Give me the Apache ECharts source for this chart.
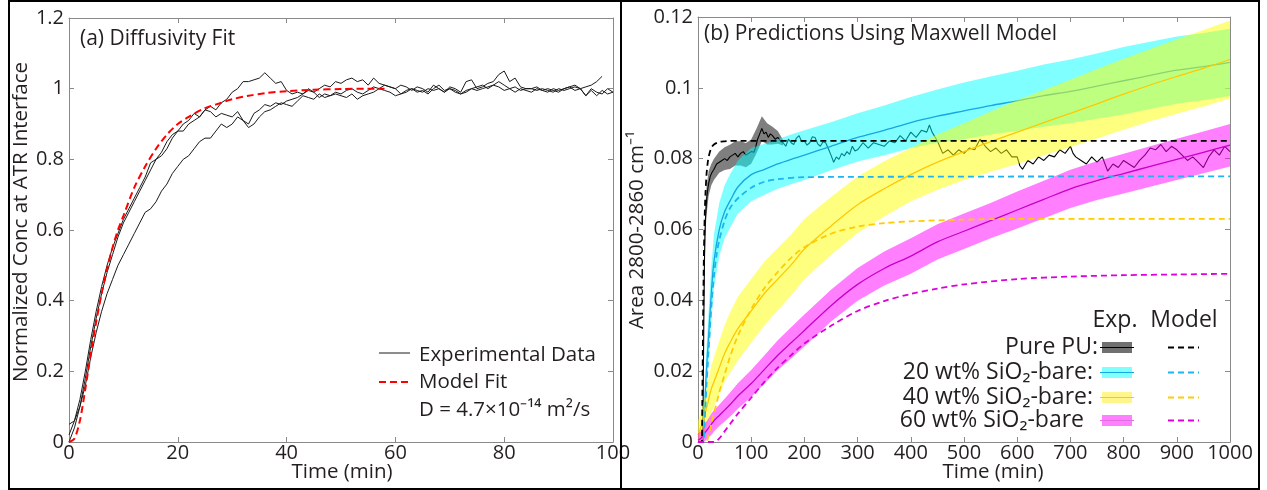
<!DOCTYPE html>
<html><head><meta charset="utf-8">
<script src="https://cdn.jsdelivr.net/npm/echarts@6/dist/echarts.min.js"></script>
<style>html,body{margin:0;padding:0;background:#fff}#c{width:1267px;height:490px}</style>
</head><body><div id="c"></div><script>
// ---------- Panel (a) data ----------
const tExpA = [0,1,2,3,4,5,6,7,8,9,10,11,12,13,14,15,16,17,18,19,20,21,22,23,24,25,26,27,28,29,30,31,32,33,34,35,36,37,38,39,40,41,42,43,44,45,46,47,48,49,50,51,52,53,54,55,56,57,58,59,60,61,62,63,64,65,66,67,68,69,70,71,72,73,74,75,76,77,78,79,80,81,82,83,84,85,86,87,88,89,90,91,92,93,94,95,96,97,98,99,100];
const expRun1 = [0.02,0.06,0.12,0.2,0.29,0.37,0.44,0.5,0.55,0.59,0.63,0.66,0.69,0.72,0.75,0.79,0.80,0.81,0.83,0.86,0.88,0.88,0.9,0.91,0.92,0.94,0.95,0.94,0.96,0.97,0.99,1.0,1.02,1.02,1.025,1.03,1.045,1.03,1.015,1.02,0.995,0.985,0.99,0.985,0.995,0.99,1.0,1.01,1.005,1.02,1.015,1.025,1.03,1.02,1.025,1.01,1.03,1.015,1.01,1.005,1.0,0.985,0.995,1.0,0.99,0.995,0.985,1.0,1.01,0.995,1.0,0.99,0.985,0.995,1.0,1.005,1.01,1.0,1.01,1.02,1.01,1.0,1.005,0.995,1.0,1.0,0.995,1.0,0.995,0.99,1.0,0.995,1.0,1.005,1.0,0.98,1.0,0.99,0.985,1.0,0.99];
const expRun2 = [0.0,0.04,0.1,0.18,0.27,0.35,0.42,0.48,0.53,0.58,0.62,0.65,0.68,0.71,0.74,0.77,0.8,0.82,0.85,0.87,0.88,0.9,0.91,0.93,0.92,0.94,0.935,0.92,0.93,0.925,0.92,0.935,0.91,0.89,0.9,0.92,0.935,0.94,0.95,0.96,0.955,0.95,0.965,0.98,0.975,0.97,0.985,0.975,0.98,0.99,0.985,0.995,1.0,0.99,0.985,0.995,1.005,1.0,1.01,1.005,1.0,1.01,1.005,0.995,1.005,1.0,0.99,1.01,1.0,0.99,1.005,1.0,0.99,1.02,1.025,1.0,1.005,1.015,1.02,1.04,1.05,1.02,1.03,1.005,1.0,1.0,1.005,0.995,1.0,0.995,0.99,1.0,1.005,1.01,1.0,1.005,1.01,1.02,1.035];
const expRun3 = [0.05,0.06,0.1,0.16,0.24,0.31,0.37,0.42,0.46,0.5,0.53,0.56,0.59,0.62,0.65,0.66,0.68,0.71,0.73,0.76,0.78,0.8,0.81,0.83,0.85,0.86,0.86,0.88,0.9,0.89,0.9,0.92,0.91,0.9,0.93,0.94,0.955,0.95,0.96,0.955,0.965,0.97,0.975,0.985,1.0,0.99,0.975,0.985,0.98,0.985,0.98,0.975,0.985,0.97,0.98,0.985,0.99,1.0,0.995,0.99,0.98,0.985,0.99,1.0,0.995,0.99,1.0,0.995,1.0,0.99,1.0,0.995,0.985,0.99,1.0,0.995,1.0,1.005,1.01,1.005,0.995,1.0,0.99,1.0,0.995,0.99,1.0,0.995,0.99,1.0,0.995,1.0,1.005,0.995,1.0,0.98,0.995,0.98,0.995,0.985,0.99];
const tFit = [0,1,2,3,4,5,6,7,8,9,10,12,14,16,18,20,22,25,28,30,33,36,40,45,50,55,58];
const fitVals = [0,0.01,0.06,0.15,0.25,0.34,0.42,0.49,0.55,0.6,0.64,0.72,0.78,0.83,0.87,0.9,0.92,0.945,0.96,0.97,0.98,0.987,0.993,0.997,0.999,1.0,1.0];

// ---------- Panel (b) data ----------
const tBand = [0,5,10,15,20,25,30,40,50,60,75,100,125,150,175,200,250,300,350,400,450,500,550,600,650,700,750,800,850,900,950,1000];
const c20 = [0,0,0.002,0.018,0.03,0.042,0.051,0.06,0.065,0.068,0.072,0.0755,0.077,0.0785,0.0798,0.081,0.0835,0.086,0.088,0.0902,0.092,0.0935,0.095,0.0963,0.0978,0.099,0.1005,0.102,0.1035,0.105,0.106,0.1072];
const h20 = [0,0,0.002,0.006,0.007,0.0075,0.0075,0.0075,0.0075,0.0075,0.0075,0.0075,0.0072,0.007,0.007,0.007,0.0068,0.0068,0.007,0.0072,0.0075,0.008,0.0082,0.0085,0.0088,0.009,0.0092,0.0095,0.0095,0.0095,0.0095,0.0095];
const c40 = [0.002,0.004,0.006,0.009,0.012,0.015,0.017,0.021,0.025,0.028,0.032,0.037,0.042,0.046,0.050,0.0545,0.061,0.067,0.0715,0.0755,0.079,0.082,0.0848,0.0875,0.0902,0.0928,0.0955,0.0982,0.1008,0.1032,0.1055,0.108];
const h40 = [0.004,0.004,0.005,0.005,0.006,0.0065,0.007,0.0075,0.008,0.0085,0.009,0.009,0.009,0.0088,0.0086,0.0085,0.0082,0.008,0.0078,0.0075,0.0078,0.008,0.0085,0.009,0.0092,0.0095,0.0098,0.01,0.0102,0.0105,0.0108,0.011];
const c60 = [0.0005,0.001,0.002,0.003,0.004,0.005,0.006,0.0075,0.009,0.0105,0.013,0.0165,0.0205,0.0245,0.028,0.0315,0.0385,0.0445,0.049,0.0525,0.0565,0.0595,0.0625,0.0655,0.0685,0.0715,0.0738,0.0758,0.0778,0.0798,0.0818,0.0838];
const h60 = [0.002,0.002,0.0022,0.0025,0.0027,0.003,0.003,0.003,0.0032,0.0034,0.0036,0.0038,0.004,0.0042,0.0044,0.0045,0.0045,0.0046,0.0048,0.005,0.005,0.005,0.005,0.0052,0.0053,0.0054,0.0055,0.0056,0.0057,0.0058,0.0059,0.006];
const tPUband = [10,11,12,14,16,20,25,30,40,50,60,70,80,90,100,110,120,130,140,150,160];
const cPU = [0.0,0.035,0.05,0.063,0.068,0.073,0.0755,0.077,0.079,0.08,0.0805,0.0815,0.0815,0.081,0.082,0.085,0.0885,0.087,0.0865,0.086,0.0845];
const hPU = [0.002,0.004,0.005,0.004,0.004,0.0035,0.003,0.003,0.003,0.0032,0.0034,0.0034,0.0034,0.0034,0.0034,0.0035,0.0035,0.003,0.0025,0.0018,0.0008];
const tPU = [0,9,10,11,12,13,14,16,18,20,23,26,30,35,40,45,50,55,60,65,70,75,80,85,90,95,100,105,108,112,116,120,124,128,132,136,140,145,150,155,160,165,170,175,180,185,190,195,200,205,210,215,220,225,230,235,240,245,250,255,260,265,270,275,280,285,290,295,300,310,320,330,340,350,360,370,380,390,400,410,420,430,435,440,450,460,470,480,490,500,510,520,530,540,550,560,570,580,590,600,605,610,620,630,640,650,660,670,680,690,700,705,710,720,730,740,750,760,770,780,790,800,810,820,830,840,850,860,870,880,890,900,910,920,930,940,950,960,970,980,990,1000];
const vPU = [0,0,0,0.035,0.05,0.058,0.063,0.068,0.071,0.073,0.075,0.076,0.077,0.0785,0.079,0.0795,0.08,0.0795,0.0805,0.081,0.0815,0.0805,0.0815,0.082,0.081,0.0815,0.082,0.0818,0.083,0.0855,0.087,0.0885,0.087,0.0875,0.086,0.087,0.0865,0.0855,0.086,0.085,0.0845,0.0835,0.0855,0.0845,0.084,0.0858,0.0865,0.0848,0.085,0.0838,0.0845,0.0862,0.086,0.0842,0.0835,0.0848,0.0845,0.0828,0.081,0.079,0.0805,0.0798,0.0815,0.0808,0.082,0.0812,0.0835,0.0822,0.0825,0.0845,0.083,0.0845,0.084,0.0835,0.085,0.0845,0.0865,0.085,0.0875,0.086,0.088,0.0875,0.0895,0.0875,0.085,0.0815,0.0825,0.081,0.0825,0.0815,0.083,0.0825,0.0855,0.0835,0.082,0.083,0.0815,0.0825,0.0805,0.0805,0.078,0.077,0.0795,0.0785,0.0805,0.0795,0.081,0.0805,0.0825,0.0815,0.0835,0.0815,0.0805,0.0795,0.0785,0.0805,0.079,0.0805,0.0765,0.0785,0.0775,0.0795,0.0785,0.0775,0.0795,0.081,0.083,0.0825,0.084,0.082,0.0835,0.0825,0.081,0.0795,0.0805,0.079,0.0775,0.0805,0.0825,0.081,0.0835,0.082];
const tM0 = [0,7,8,9,10,11,12,13,14,16,18,20,25,30,40,50,60,80,1000];
const vM0 = [0,0,0.01,0.025,0.04,0.052,0.06,0.066,0.07,0.0755,0.0785,0.0805,0.083,0.084,0.0847,0.0849,0.085,0.085,0.085];
const tM20 = [0,10,12,14,16,18,20,25,30,35,40,50,60,70,80,100,125,150,200,1000];
const vM20 = [0,0,0.004,0.01,0.016,0.021,0.026,0.038,0.047,0.053,0.057,0.0625,0.066,0.068,0.0695,0.0718,0.0735,0.0742,0.0748,0.075];
const tM40 = [0,15,20,25,30,40,50,60,75,100,125,150,175,200,250,300,350,400,500,600,1000];
const vM40 = [0,0,0.002,0.005,0.008,0.014,0.019,0.024,0.030,0.0375,0.0435,0.048,0.052,0.055,0.0588,0.0608,0.0618,0.0623,0.0628,0.063,0.063];
const tM60 = [0,30,40,50,60,75,100,125,150,175,200,250,300,350,400,450,500,600,700,800,900,1000];
const vM60 = [0,0,0.001,0.003,0.005,0.008,0.0125,0.017,0.021,0.0245,0.0278,0.0328,0.037,0.0398,0.0418,0.0433,0.0445,0.046,0.0467,0.0471,0.0473,0.0475];

const pairs = (t, v) => t.map((x, i) => [x, v[i]]);

const FONT = '"Open Sans", sans-serif';
const TXT = '#231f20';
const AX = '#8a8a8a';
const fmtNum = v => String(Number(v.toFixed(3)));

function xAx(grid, max, interval, pos, labels) {
  return { gridIndex: grid, type: 'value', min: 0, max: max, interval: interval, position: pos,
    axisLine: { onZero: false, lineStyle: { color: AX, width: 1 } },
    axisTick: { inside: true, length: 5, lineStyle: { color: AX } },
    axisLabel: { show: labels, color: TXT, fontSize: 20, fontFamily: FONT, margin: 1, formatter: fmtNum },
    splitLine: { show: false } };
}
function yAx(grid, max, interval, pos, labels) {
  return { gridIndex: grid, type: 'value', min: 0, max: max, interval: interval, position: pos,
    axisLine: { onZero: false, lineStyle: { color: AX, width: 1 } },
    axisTick: { inside: true, length: 5, lineStyle: { color: AX } },
    axisLabel: { show: labels, color: TXT, fontSize: 20, fontFamily: FONT, margin: 5, formatter: fmtNum },
    splitLine: { show: false } };
}

function band(t, c, h, fill, z) {
  return { type: 'custom', xAxisIndex: 2, yAxisIndex: 2, z: z, silent: true, clip: true,
    data: [[0, 0]],
    renderItem: (params, api) => {
      const up = t.map((x, i) => api.coord([x, c[i] + h[i]]));
      const lo = t.map((x, i) => api.coord([x, Math.max(0, c[i] - h[i])])).reverse();
      return { type: 'polygon', shape: { points: up.concat(lo) }, style: { fill: fill } };
    } };
}
function line(xi, t, v, color, width, dash, z, smooth) {
  return { type: 'line', xAxisIndex: xi, yAxisIndex: xi, data: pairs(t, v), z: z, silent: true,
    symbol: 'none', showSymbol: false, smooth: smooth || false, clip: true,
    lineStyle: { color: color, width: width, type: dash || 'solid' } };
}

const textStyle = (s, size) => Object.assign({ fill: TXT, fontFamily: FONT, fontSize: size || 20 }, s);
const LG = 23;

const chart = echarts.init(document.getElementById('c'));
chart.setOption({
  animation: false,
  backgroundColor: '#fff',
  grid: [
    { left: 69, right: 654, top: 18, bottom: 48 },
    { left: 698, right: 37, top: 17, bottom: 48 }
  ],
  xAxis: [ xAx(0, 100, 20, 'bottom', true), xAx(0, 100, 20, 'top', false),
           xAx(1, 1000, 100, 'bottom', true), xAx(1, 1000, 100, 'top', false) ],
  yAxis: [ yAx(0, 1.2, 0.2, 'left', true), yAx(0, 1.2, 0.2, 'right', false),
           yAx(1, 0.12, 0.02, 'left', true), yAx(1, 0.12, 0.02, 'right', false) ],
  series: [
    line(0, tExpA, expRun1, '#1a1a1a', 1, null, 2),
    line(0, tExpA.slice(0, expRun2.length), expRun2, '#1a1a1a', 1, null, 2),
    line(0, tExpA, expRun3, '#1a1a1a', 1, null, 2),
    line(0, tFit, fitVals, '#ff0000', 2, [7, 4], 3, 0.3),

    band(tPUband, cPU, hPU, 'rgba(0,0,0,0.5)', 2),
    line(2, tPU, vPU, '#000000', 1.1, null, 3),
    band(tBand, c20, h20, 'rgba(0,255,255,0.5)', 4),
    line(2, tBand, c20, '#16a6e2', 1.3, null, 5, 0.3),
    band(tBand, c40, h40, 'rgba(255,255,0,0.5)', 6),
    line(2, tBand, c40, '#ffc800', 1.3, null, 7, 0.3),
    band(tBand, c60, h60, 'rgba(255,0,255,0.5)', 8),
    line(2, tBand, c60, '#c800c8', 1.3, null, 9, 0.3),
    line(2, tM0, vM0, '#000000', 1.8, [6, 4], 10, 0.3),
    line(2, tM20, vM20, '#1eb4f0', 1.8, [6, 4], 10, 0.3),
    line(2, tM40, vM40, '#ffcc00', 1.8, [6, 4], 10, 0.3),
    line(2, tM60, vM60, '#dd00dd', 1.8, [6, 4], 10, 0.3)
  ],
  graphic: [
    // frames
    { type: 'rect', z: 100, silent: true, shape: { x: 9, y: 1, width: 1250, height: 488 }, style: { fill: null, stroke: '#000', lineWidth: 2 } },
    { type: 'line', z: 100, silent: true, shape: { x1: 621, y1: 1, x2: 621, y2: 489 }, style: { stroke: '#000', lineWidth: 2 } },
    // titles
    { type: 'text', z: 50, left: 80, top: 29, style: textStyle({ text: '(a) Diffusivity Fit' }, 21) },
    { type: 'text', z: 50, left: 704, top: 24, style: textStyle({ text: '(b) Predictions Using Maxwell Model' }, 21) },
    // axis names
    { type: 'text', z: 50, x: 21, y: 222, rotation: Math.PI / 2, style: textStyle({ text: 'Normalized Conc at ATR Interface', align: 'center', verticalAlign: 'middle' }, 20.5) },
    { type: 'text', z: 50, x: 637, y: 230, rotation: Math.PI / 2, style: textStyle({ text: 'Area 2800-2860 cm⁻¹', align: 'center', verticalAlign: 'middle' }, 20.5) },
    { type: 'text', z: 50, x: 342, y: 472, style: textStyle({ text: 'Time (min)', align: 'center', verticalAlign: 'middle' }, 20.5) },
    { type: 'text', z: 50, x: 993, y: 472, style: textStyle({ text: 'Time (min)', align: 'center', verticalAlign: 'middle' }, 20.5) },
    // legend (a)
    { type: 'line', z: 50, shape: { x1: 379, y1: 353, x2: 410, y2: 353 }, style: { stroke: '#1a1a1a', lineWidth: 1 } },
    { type: 'line', z: 50, shape: { x1: 379, y1: 382, x2: 412, y2: 382 }, style: { stroke: '#ff0000', lineWidth: 2, lineDash: [7, 4] } },
    { type: 'text', z: 50, x: 419, y: 355, style: textStyle({ text: 'Experimental Data', verticalAlign: 'middle' }, 20.5) },
    { type: 'text', z: 50, x: 419, y: 382, style: textStyle({ text: 'Model Fit', verticalAlign: 'middle' }, 20.5) },
    { type: 'text', z: 50, x: 419, y: 410, style: textStyle({ text: 'D = 4.7×10⁻¹⁴ m²/s', verticalAlign: 'middle' }, 20.5) },
    // legend (b)
    { type: 'text', z: 50, x: 1115, y: 320, style: textStyle({ text: 'Exp.', align: 'center', verticalAlign: 'middle' }, LG) },
    { type: 'text', z: 50, x: 1184, y: 320, style: textStyle({ text: 'Model', align: 'center', verticalAlign: 'middle' }, LG) },
    { type: 'text', z: 50, x: 1098, y: 347, style: textStyle({ text: 'Pure PU:', align: 'right', verticalAlign: 'middle' }, LG) },
    { type: 'text', z: 50, x: 1093, y: 372, style: textStyle({ text: '20 wt% SiO₂-bare:', align: 'right', verticalAlign: 'middle' }, LG) },
    { type: 'text', z: 50, x: 1093, y: 397, style: textStyle({ text: '40 wt% SiO₂-bare:', align: 'right', verticalAlign: 'middle' }, LG) },
    { type: 'text', z: 50, x: 1084, y: 420, style: textStyle({ text: '60 wt% SiO₂-bare', align: 'right', verticalAlign: 'middle' }, LG) },
    { type: 'rect', z: 50, shape: { x: 1102, y: 342, width: 30, height: 11 }, style: { fill: '#707070' } },
    { type: 'line', z: 51, shape: { x1: 1100, y1: 347.5, x2: 1134, y2: 347.5 }, style: { stroke: '#000', lineWidth: 1.2 } },
    { type: 'rect', z: 50, shape: { x: 1102, y: 367, width: 30, height: 11 }, style: { fill: '#80ffff' } },
    { type: 'line', z: 51, shape: { x1: 1100, y1: 372.5, x2: 1134, y2: 372.5 }, style: { stroke: '#16a6e2', lineWidth: 1.2 } },
    { type: 'rect', z: 50, shape: { x: 1102, y: 392, width: 30, height: 11 }, style: { fill: '#fff58a' } },
    { type: 'line', z: 51, shape: { x1: 1100, y1: 397.5, x2: 1134, y2: 397.5 }, style: { stroke: '#ffc800', lineWidth: 1.2 } },
    { type: 'rect', z: 50, shape: { x: 1102, y: 415, width: 30, height: 11 }, style: { fill: '#ff80ff' } },
    { type: 'line', z: 51, shape: { x1: 1100, y1: 420.5, x2: 1134, y2: 420.5 }, style: { stroke: '#e070e0', lineWidth: 1.2 } },
    { type: 'line', z: 50, shape: { x1: 1168, y1: 347.5, x2: 1199, y2: 347.5 }, style: { stroke: '#000', lineWidth: 1.8, lineDash: [6, 4] } },
    { type: 'line', z: 50, shape: { x1: 1168, y1: 372.5, x2: 1199, y2: 372.5 }, style: { stroke: '#1eb4f0', lineWidth: 1.8, lineDash: [6, 4] } },
    { type: 'line', z: 50, shape: { x1: 1168, y1: 397.5, x2: 1199, y2: 397.5 }, style: { stroke: '#ffcc00', lineWidth: 1.8, lineDash: [6, 4] } },
    { type: 'line', z: 50, shape: { x1: 1168, y1: 420.5, x2: 1199, y2: 420.5 }, style: { stroke: '#dd00dd', lineWidth: 1.8, lineDash: [6, 4] } }
  ]
});
</script></body></html>
